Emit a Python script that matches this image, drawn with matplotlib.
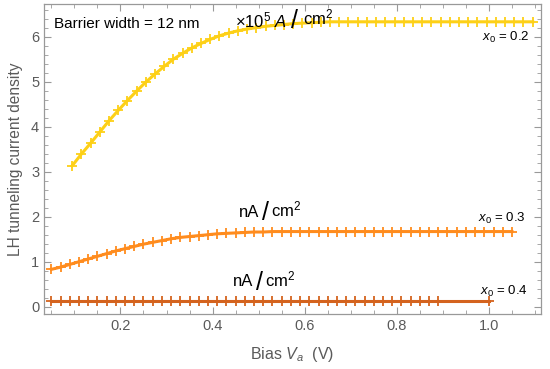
import numpy as np
import matplotlib
matplotlib.use("Agg")
import matplotlib.pyplot as plt
from matplotlib.ticker import MultipleLocator

plt.rcParams['font.family'] = ['Liberation Sans', 'DejaVu Sans']
plt.rcParams['mathtext.fontset'] = 'custom'
plt.rcParams['mathtext.rm'] = 'Liberation Sans'
plt.rcParams['mathtext.it'] = 'Liberation Sans:italic'

# x0 = 0.2 (units 1e5 A/cm2)
v_02 = np.arange(51) * 0.02 + 0.095
j_02 = [3.13, 3.39, 3.63, 3.88, 4.13, 4.36, 4.58, 4.79, 4.99, 5.17,
        5.34, 5.50, 5.63, 5.75, 5.85, 5.94, 6.02, 6.08, 6.13, 6.17,
        6.20, 6.23, 6.25, 6.27, 6.29, 6.30, 6.31, 6.32, 6.33, 6.33,
        6.33, 6.33, 6.33, 6.33, 6.33, 6.33, 6.33, 6.33, 6.33, 6.33,
        6.33, 6.33, 6.33, 6.33, 6.33, 6.33, 6.33, 6.33, 6.33, 6.33, 6.33]

# x0 = 0.3 (nA/cm2)
v_03 = np.arange(51) * 0.02 + 0.05
j_03 = [0.83, 0.88, 0.94, 1.00, 1.06, 1.12, 1.18, 1.24, 1.29, 1.34,
        1.39, 1.43, 1.47, 1.51, 1.54, 1.56, 1.58, 1.60, 1.62, 1.63,
        1.64, 1.65, 1.66, 1.66, 1.67, 1.67, 1.67, 1.67, 1.67, 1.67,
        1.67, 1.67, 1.67, 1.67, 1.67, 1.67, 1.67, 1.67, 1.67, 1.67,
        1.67, 1.67, 1.67, 1.67, 1.67, 1.67, 1.67, 1.67, 1.67, 1.67, 1.67]

# x0 = 0.4 (nA/cm2)
v_04 = list(np.arange(43) * 0.02 + 0.05) + [1.0]
j_04 = [0.13] * 44

c_02 = '#FDD017'
c_03 = '#FF8C1E'
c_04 = '#D4631E'
gray = '#5a5a5a'

fig = plt.figure(figsize=(5.5, 3.69), dpi=100)
ax = fig.add_axes([0.08, 0.149, 0.9036, 0.839])

for v, j, c in [(v_02, j_02, c_02), (v_03, j_03, c_03), (v_04, j_04, c_04)]:
    ax.plot(v, j, color=c, lw=2.2, marker='+', ms=7, mew=1.3, zorder=3)

ax.set_xlim(0.034, 1.113)
ax.set_ylim(-0.162, 6.716)
ax.xaxis.set_minor_locator(MultipleLocator(0.05))
ax.yaxis.set_major_locator(MultipleLocator(1))
ax.yaxis.set_minor_locator(MultipleLocator(0.2))
ax.set_xticks([0.2, 0.4, 0.6, 0.8, 1.0])
ax.set_xticklabels(['0.2', '0.4', '0.6', '0.8', '1.0'])
ax.tick_params(which='both', direction='in', top=True, right=True,
               color='#999999', labelcolor=gray, labelsize=10.5)
ax.tick_params(which='major', length=5, width=0.8)
ax.tick_params(which='minor', length=3, width=0.6)
for s in ax.spines.values():
    s.set_color('#999999')
    s.set_linewidth(0.9)

ax.set_xlabel(r'Bias $V_a$  (V)', color=gray, fontsize=11.5, labelpad=9)
ax.set_ylabel('LH tunneling current density', color=gray, fontsize=11.2, labelpad=6)

fig.text(54 / 550, 1 - 24 / 369, 'Barrier width = 12 nm', fontsize=11,
         va='center', ha='left')

# unit labels: (left of first part, slash, cm2, centre y)
units = [(r'$\times$10$^5$ $A$', 0.449, 0.570, 0.596, 6.37),
         ('nA', 0.457, 0.508, 0.526, 2.10),
         ('nA', 0.444, 0.495, 0.513, 0.55)]
for first, x1, xs, xc, yc in units:
    ax.text(x1, yc, first, fontsize=12, ha='left', va='center')
    ax.text(xs, yc - 0.02, '/', fontsize=18, ha='left', va='center')
    ax.text(xc, yc + 0.06, r'cm$^2$', fontsize=12, ha='left', va='center')

ax.text(1.089, 5.99, r'$x_0$ = 0.2', fontsize=9.5, ha='right', va='center')
ax.text(1.080, 1.97, r'$x_0$ = 0.3', fontsize=9.5, ha='right', va='center')
ax.text(1.085, 0.33, r'$x_0$ = 0.4', fontsize=9.5, ha='right', va='center')

plt.savefig('out.png', dpi=100)
